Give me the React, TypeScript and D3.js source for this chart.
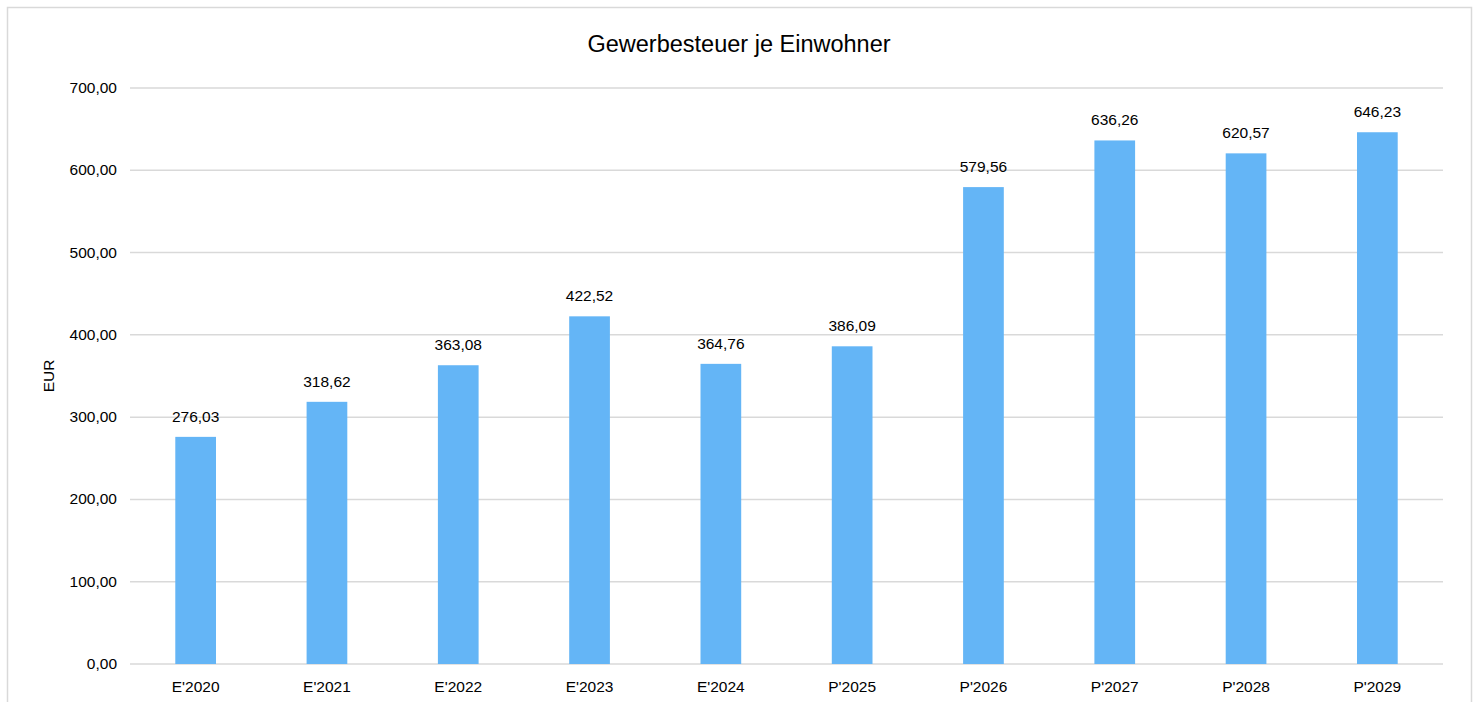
import React from 'react';
import * as d3 from 'd3';

const categories = ["E'2020", "E'2021", "E'2022", "E'2023", "E'2024", "P'2025", "P'2026", "P'2027", "P'2028", "P'2029"];
const values = [276.03, 318.62, 363.08, 422.52, 364.76, 386.09, 579.56, 636.26, 620.57, 646.23];
const yTicks = [0, 100, 200, 300, 400, 500, 600, 700];

const fmt = (v: number) => v.toFixed(2).replace('.', ',');

export default function App() {
  const width = 1477;
  const height = 702;
  const m = { left: 130, right: 1443, top: 88, bottom: 664 };

  const x = d3.scaleBand<string>().domain(categories).range([m.left, m.right]).paddingInner(0.69).paddingOuter(0.345);
  const y = d3.scaleLinear().domain([0, 700]).range([m.bottom, m.top]);
  const font = 'Liberation Sans, Arial, sans-serif';

  return (
    <svg width={width} height={height} style={{ position: 'absolute', left: 0, top: 0 }} fontFamily={font}>
      <rect x={0} y={0} width={width} height={height} fill="#fff" />
      <rect x={7.5} y={7.5} width={1464} height={720} fill="none" stroke="#d9d9d9" strokeWidth={1.5} />
      <text x={739} y={52} textAnchor="middle" fontSize={23.5} fill="#000">Gewerbesteuer je Einwohner</text>
      {yTicks.map((t) => (
        <g key={t}>
          <line x1={m.left} x2={m.right} y1={y(t)} y2={y(t)} stroke="#d9d9d9" strokeWidth={1.5} />
          <text x={117} y={y(t) + 5} textAnchor="end" fontSize={15.5} fill="#000">{fmt(t)}</text>
        </g>
      ))}
      <text transform={`translate(54,${(m.top + m.bottom) / 2}) rotate(-90)`} textAnchor="middle" fontSize={15.5} fill="#000">EUR</text>
      {categories.map((c, i) => (
        <g key={c}>
          <rect x={x(c)} y={y(values[i])} width={x.bandwidth()} height={y(0) - y(values[i])} fill="#64b5f6" />
          <text x={(x(c) as number) + x.bandwidth() / 2} y={y(values[i]) - 15} textAnchor="middle" fontSize={15.5} fill="#000">{fmt(values[i])}</text>
          <text x={(x(c) as number) + x.bandwidth() / 2} y={692} textAnchor="middle" fontSize={15.5} fill="#000">{c}</text>
        </g>
      ))}
    </svg>
  );
}
